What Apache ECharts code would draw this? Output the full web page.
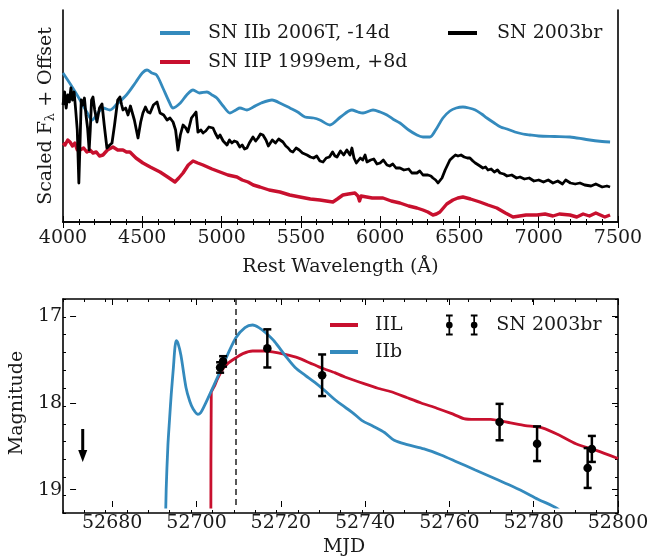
<!DOCTYPE html>
<html>
<head>
<meta charset="utf-8">
<script src="https://cdn.jsdelivr.net/npm/echarts@6/dist/echarts.min.js"></script>
<style>html,body{margin:0;padding:0;background:#fff;}#c{width:652px;height:558px;}</style>
</head>
<body>
<div id="c"></div>
<script>
// ---------- Top panel: spectra (wavelength in Å, scaled flux + offset, arbitrary units) ----------
const blueWave = [4000,4050,4100,4150,4183,4220,4252,4296,4340,4400,4460,4500,4530,4560,4590,4630,4670,4694,4740,4780,4820,4860,4908,4940,4970,5010,5053,5090,5116,5160,5200,5250,5318,5380,5431,5480,5526,5580,5620,5683,5750,5822,5860,5892,5955,6000,6043,6080,6125,6180,6232,6270,6314,6350,6396,6440,6480,6522,6560,6600,6640,6673,6720,6760,6800,6850,6900,6945,7000,7100,7197,7300,7400,7450];
const blueFlux = [149,137,124,110,102,109,114,112,118,127,140,149,152,149,147,134,120,114,119,127,132,129,130,127,124,116,109,112,114,112,115,119,122,118,114,110,105,104,102,97,105,112,110,109,112,110,107,103,99,92,87,85,85,92,104,111,114,115,114,112,108,104,99,95,93,90,88,87,86,85.5,85,82.5,80.5,80];

const blackWave = [4000,4010,4020,4030,4040,4050,4060,4070,4080,4090,4100,4108,4115,4125,4135,4145,4155,4165,4172,4180,4189,4200,4214,4230,4246,4260,4277,4295,4309,4325,4345,4359,4370,4378,4395,4410,4425,4435,4450,4473,4490,4504,4520,4535,4549,4570,4593,4612,4635,4656,4675,4694,4710,4725,4740,4757,4775,4788,4810,4839,4851,4870,4883,4900,4920,4946,4960,4977,4990,5010,5034,5050,5065,5080,5097,5115,5130,5145,5160,5175,5198,5215,5230,5245,5261,5280,5295,5305,5320,5340,5360,5387,5405,5420,5435,5450,5470,5490,5510,5539,5560,5580,5600,5620,5640,5660,5680,5700,5715,5728,5750,5770,5790,5810,5822,5835,5850,5860,5875,5890,5905,5917,5940,5960,5980,6000,6020,6043,6060,6080,6100,6125,6150,6180,6200,6232,6250,6270,6301,6320,6333,6350,6365,6377,6390,6410,6425,6440,6460,6475,6491,6510,6530,6550,6566,6585,6600,6620,6648,6665,6680,6700,6720,6740,6756,6780,6800,6830,6860,6882,6910,6940,6970,7000,7030,7060,7090,7120,7150,7170,7200,7230,7260,7290,7330,7360,7400,7430,7450];
const blackFlux = [117,130,114,127,120,134,122,130,112,92,39,82,122,117,124,107,94,72,92,122,125,112,100,114,118,97,74,77,79,97,122,125,117,112,114,107,116,114,102,84,100,109,115,110,109,117,120,109,107,102,104,100,92,72,87,97,94,90,104,110,90,92,89,91,95,94,89,84,87,81,77,82,79,81,80,75,77,73,74,79,85,81,84,88,87,82,76,77,82,79,83,80,76,74,71,70,74,72,69,67,65,64,66,61,60,64,65,70,66,65,71,67,72,67,74,64,59,57,64,62,67,60,62,63,58,59,62,57,56,58,54,54,52,53,49,49,51,47,47,46,44,42,39,41,44,52,57,62,65,67,66,67,65,64,64,61,59,57,54,55,52,53,50,52,49,48,46,47,44,45,43,44,41,42,40,42,39,41,38,42,39,38,39,37,36,38,35,36,35];

const redWave = [4000,4013,4030,4044,4060,4075,4090,4107,4130,4150,4170,4189,4210,4230,4252,4280,4315,4345,4378,4400,4422,4460,4504,4550,4612,4660,4706,4730,4757,4790,4820,4850,4883,4940,4990,5040,5097,5130,5167,5200,5242,5300,5368,5430,5494,5560,5620,5660,5702,5730,5765,5800,5841,5860,5870,5880,5892,5950,6018,6070,6125,6180,6232,6270,6301,6333,6355,6377,6420,6459,6490,6522,6570,6629,6680,6736,6790,6838,6880,6920,6989,7040,7090,7130,7197,7240,7280,7320,7360,7417,7450];
const redFlux = [79,77,82,80,76,79,72,72,74,70,72,69,70,66,67,72,75,72,72,70,70,64,59,55,50,45,40,44,49,57,61,59,57,53,50,47,45,42,40,37,35,32,30,27,25,23,22,21,20,23,27,28,29,26,21,26,25,24,24,21,19,16,14,12,10,7,8,10,18,22,24,25,23,20,17,14,9,5,6,7,7,8,6,8,7,5,8,6,9,5,7];

const spectrumNames = ['SN IIb 2006T, -14d', 'SN IIP 1999em, +8d', 'SN 2003br'];
const waveTicks = [4000, 7500, 500];

// ---------- Bottom panel: light curves (MJD, magnitude) ----------
const iilMjd = [52703.4,52703.5,52704.3,52705,52706.2,52707.5,52709.3,52711,52713.3,52716,52718,52721,52724.1,52727,52728.9,52730.5,52732.8,52735.2,52739.9,52743,52746.2,52750,52753.3,52757,52760.4,52763.4,52766,52769.8,52774.5,52778,52782.2,52786,52790,52795,52800];
const iilMag = [19.5,17.88,17.8,17.72,17.61,17.54,17.48,17.43,17.40,17.40,17.41,17.44,17.48,17.54,17.58,17.61,17.65,17.70,17.78,17.83,17.87,17.94,18.0,18.06,18.12,18.18,18.19,18.19,18.23,18.26,18.29,18.37,18.47,18.55,18.64];

const iibMjd = [52692.6,52692.8,52693.2,52693.6,52694.0,52694.5,52694.9,52695.2,52695.6,52696.3,52697.5,52698.4,52699.2,52700.3,52701.0,52701.8,52703.9,52706.2,52709.3,52711.5,52713.3,52714.8,52716.4,52718.5,52721,52723.4,52725.8,52728,52730.5,52732.8,52734.4,52737,52739.2,52742,52744.6,52746.9,52750,52754,52758,52761.8,52766,52769.8,52774,52777.5,52781,52784.6,52786];
const iibMag = [19.5,19.0,18.5,18.19,17.9,17.6,17.35,17.28,17.31,17.45,17.82,17.98,18.07,18.13,18.11,18.04,17.82,17.57,17.25,17.13,17.10,17.13,17.19,17.29,17.45,17.59,17.68,17.76,17.86,17.96,18.02,18.11,18.2,18.27,18.34,18.43,18.48,18.53,18.6,18.68,18.77,18.85,18.94,19.02,19.11,19.19,19.23];

const obsMjd = [52705.6,52706.3,52716.8,52729.8,52771.9,52780.8,52792.8,52793.8];
const obsMag = [17.59,17.52,17.37,17.68,18.22,18.47,18.75,18.53];
const obsErr = [0.06,0.06,0.22,0.24,0.21,0.20,0.23,0.15];

const limitMjd = [52673];
const limitMag = [18.3];
const refMjd = 52709.3;

const mjdMajor = [52680,52700,52720,52740,52760,52780,52800];
const magMajor = [17,18,19];

// ---------- styling ----------
const FONT = 'DejaVu Serif';
const TXT = '#1a1a1a';
const BLUE = '#348ABD';
const RED = '#C8102E';
const BLACK = '#000';
const LW = 1.6;

function zip(a, b) { return a.map((v, i) => [v, b[i]]); }
const plain = v => String(Math.round(v * 1000) / 1000);

const chart = echarts.init(document.getElementById('c'), null, {renderer: 'canvas'});

const G0 = {left: 63, top: 10, width: 555, height: 212};
const G1 = {left: 63, top: 299, width: 555, height: 214};

const lineAx = {show: true, lineStyle: {color: '#000', width: LW}};
const noLine = {show: false};

const option = {
  animation: false,
  backgroundColor: '#fff',
  textStyle: {fontFamily: FONT, color: TXT},
  grid: [
    Object.assign({containLabel: false}, G0),
    Object.assign({containLabel: false}, G1),
    Object.assign({containLabel: false}, G1)
  ],
  legend: [
    {data: [spectrumNames[0], spectrumNames[1]], orient: 'vertical', left: 160, top: 21, padding: 0, itemGap: 5,
     icon: 'rect', itemWidth: 30, itemHeight: 4,
     textStyle: {fontFamily: FONT, fontSize: 19, color: TXT, lineHeight: 24, padding: [0, 0, 0, 13]}},
    {data: [spectrumNames[2]], orient: 'vertical', left: 448, top: 21, padding: 0,
     icon: 'rect', itemWidth: 29, itemHeight: 4,
     textStyle: {fontFamily: FONT, fontSize: 19, color: TXT, lineHeight: 24, padding: [0, 0, 0, 15]}},
    {data: ['IIL', 'IIb'], orient: 'vertical', left: 330, top: 313, padding: 0, itemGap: 3,
     icon: 'rect', itemWidth: 28, itemHeight: 4,
     textStyle: {fontFamily: FONT, fontSize: 19, color: TXT, lineHeight: 24, padding: [0, 0, 0, 12]}},
    {data: [{name: 'SN 2003br', icon: 'path://M0,0 H7 V2 H4.4 V20 H7 V22 H0 V20 H2.6 V2 H0 Z M7,11 A3.5,3.5 0 1,1 0,11 A3.5,3.5 0 1,1 7,11 Z M26,0 H33 V2 H30.4 V20 H33 V22 H26 V20 H28.6 V2 H26 Z M33,11 A3.5,3.5 0 1,1 26,11 A3.5,3.5 0 1,1 33,11 Z'}],
     orient: 'vertical', left: 446, top: 313, padding: 0, itemWidth: 33, itemHeight: 21,
     textStyle: {fontFamily: FONT, fontSize: 19, color: TXT, lineHeight: 24, padding: [0, 0, 0, 13]}}
  ],
  xAxis: [
    {gridIndex: 0, type: 'value', position: 'bottom', min: waveTicks[0], max: waveTicks[1], interval: waveTicks[2],
     axisLine: lineAx, splitLine: {show: false},
     axisTick: {show: true, inside: true, length: 6, lineStyle: {color: '#000', width: 1}},
     minorTick: {show: true, splitNumber: 5, length: 3, lineStyle: {color: '#000', width: 1}},
     axisLabel: {fontFamily: FONT, fontSize: 19, color: TXT, margin: 7, formatter: plain},
     name: 'Rest Wavelength (Å)', nameLocation: 'middle', nameGap: 36,
     nameTextStyle: {fontFamily: FONT, fontSize: 19, color: TXT}},
    {gridIndex: 0, type: 'value', position: 'top', min: waveTicks[0], max: waveTicks[1], interval: waveTicks[2],
     axisLine: lineAx, splitLine: {show: false},
     axisTick: {show: true, inside: true, length: 6, lineStyle: {color: '#000', width: 1}},
     minorTick: {show: true, splitNumber: 5, length: 3, lineStyle: {color: '#000', width: 1}},
     axisLabel: {show: false}},
    {gridIndex: 1, type: 'value', position: 'bottom', min: 52670, max: 52800, interval: 5,
     axisLine: lineAx, splitLine: {show: false},
     axisTick: {show: true, inside: true, length: 3, lineStyle: {color: '#000', width: 1}},
     axisLabel: {show: false}},
    {gridIndex: 1, type: 'value', position: 'top', min: 52670, max: 52800, interval: 5,
     axisLine: lineAx, splitLine: {show: false},
     axisTick: {show: true, inside: true, length: 3, lineStyle: {color: '#000', width: 1}},
     axisLabel: {show: false}},
    {gridIndex: 2, type: 'value', position: 'bottom', min: 52670, max: 52800,
     axisLine: noLine, splitLine: {show: false},
     axisTick: {show: true, inside: true, length: 6, customValues: mjdMajor, lineStyle: {color: '#000', width: 1}},
     axisLabel: {fontFamily: FONT, fontSize: 19, color: TXT, margin: 7, customValues: mjdMajor, formatter: plain},
     name: 'MJD', nameLocation: 'middle', nameGap: 31,
     nameTextStyle: {fontFamily: FONT, fontSize: 19, color: TXT}},
    {gridIndex: 2, type: 'value', position: 'top', min: 52670, max: 52800,
     axisLine: noLine, splitLine: {show: false},
     axisTick: {show: true, inside: true, length: 6, customValues: mjdMajor, lineStyle: {color: '#000', width: 1}},
     axisLabel: {show: false}}
  ],
  yAxis: [
    {gridIndex: 0, type: 'value', position: 'left', min: 0, max: 212,
     axisLine: lineAx, axisTick: {show: false}, axisLabel: {show: false}, splitLine: {show: false},
     name: 'Scaled F{sub|λ} + Offset', nameLocation: 'middle', nameGap: 6,
     nameTextStyle: {fontFamily: FONT, fontSize: 19, color: TXT, rich: {sub: {fontFamily: FONT, fontSize: 13, color: TXT, verticalAlign: 'bottom', padding: [8, 0, 0, 0]}}}},
    {gridIndex: 0, type: 'value', position: 'right', min: 0, max: 212,
     axisLine: lineAx, axisTick: {show: false}, axisLabel: {show: false}, splitLine: {show: false}},
    {gridIndex: 1, type: 'value', position: 'left', inverse: true, min: 16.8, max: 19.2, interval: 0.2,
     axisLine: lineAx, splitLine: {show: false},
     axisTick: {show: true, inside: true, length: 3, lineStyle: {color: '#000', width: 1}},
     axisLabel: {show: false}},
    {gridIndex: 1, type: 'value', position: 'right', inverse: true, min: 16.8, max: 19.2, interval: 0.2,
     axisLine: lineAx, splitLine: {show: false},
     axisTick: {show: true, inside: true, length: 3, lineStyle: {color: '#000', width: 1}},
     axisLabel: {show: false}},
    {gridIndex: 2, type: 'value', position: 'left', inverse: true, min: 16.8, max: 19.2,
     axisLine: noLine, splitLine: {show: false},
     axisTick: {show: true, inside: true, length: 6, customValues: magMajor, lineStyle: {color: '#000', width: 1}},
     axisLabel: {fontFamily: FONT, fontSize: 19, color: TXT, margin: 8, customValues: magMajor},
     name: 'Magnitude', nameLocation: 'middle', nameGap: 35,
     nameTextStyle: {fontFamily: FONT, fontSize: 19, color: TXT}},
    {gridIndex: 2, type: 'value', position: 'right', inverse: true, min: 16.8, max: 19.2,
     axisLine: noLine, splitLine: {show: false},
     axisTick: {show: true, inside: true, length: 6, customValues: magMajor, lineStyle: {color: '#000', width: 1}},
     axisLabel: {show: false}}
  ],
  series: [
    {name: spectrumNames[0], type: 'line', xAxisIndex: 0, yAxisIndex: 0, data: zip(blueWave, blueFlux),
     showSymbol: false, smooth: 0.3, lineStyle: {color: BLUE, width: 2.8}, itemStyle: {color: BLUE}, z: 3},
    {name: spectrumNames[2], type: 'line', xAxisIndex: 0, yAxisIndex: 0, data: zip(blackWave, blackFlux),
     showSymbol: false, lineStyle: {color: BLACK, width: 2.8, join: 'round'}, itemStyle: {color: BLACK}, z: 4},
    {name: spectrumNames[1], type: 'line', xAxisIndex: 0, yAxisIndex: 0, data: zip(redWave, redFlux),
     showSymbol: false, lineStyle: {color: RED, width: 3.4, join: 'round'}, itemStyle: {color: RED}, z: 2},

    {name: 'IIL', type: 'line', xAxisIndex: 4, yAxisIndex: 4, data: zip(iilMjd, iilMag),
     showSymbol: false, smooth: 0.2, clip: true, lineStyle: {color: RED, width: 2.8}, itemStyle: {color: RED}, z: 3,
     markLine: {silent: true, symbol: 'none', label: {show: false},
       lineStyle: {color: '#222', width: 1.5, type: [6, 4]}, data: [{xAxis: refMjd}]}},
    {name: 'IIb', type: 'line', xAxisIndex: 4, yAxisIndex: 4, data: zip(iibMjd, iibMag),
     showSymbol: false, smooth: 0.3, clip: true, lineStyle: {color: BLUE, width: 2.8}, itemStyle: {color: BLUE}, z: 3},
    {name: 'SN 2003br', type: 'custom', xAxisIndex: 4, yAxisIndex: 4, clip: true, z: 5,
     data: obsMjd.map((m, i) => [m, obsMag[i], obsErr[i]]),
     renderItem: function (params, api) {
       const x = api.value(0), y = api.value(1), e = api.value(2);
       const t = api.coord([x, y - e]), b = api.coord([x, y + e]), c = api.coord([x, y]);
       const cap = 4, st = {stroke: '#000', lineWidth: 2.5};
       return {type: 'group', children: [
         {type: 'line', shape: {x1: t[0], y1: t[1], x2: b[0], y2: b[1]}, style: st},
         {type: 'line', shape: {x1: t[0] - cap, y1: t[1], x2: t[0] + cap, y2: t[1]}, style: st},
         {type: 'line', shape: {x1: b[0] - cap, y1: b[1], x2: b[0] + cap, y2: b[1]}, style: st},
         {type: 'circle', shape: {cx: c[0], cy: c[1], r: 4.3}, style: {fill: '#000'}}
       ]};
     },
     itemStyle: {color: '#000'}},
    {name: 'limit', type: 'custom', xAxisIndex: 4, yAxisIndex: 4, z: 5,
     data: limitMjd.map((m, i) => [m, limitMag[i]]),
     renderItem: function (params, api) {
       const p = api.coord([api.value(0), api.value(1)]);
       return {type: 'group', children: [
         {type: 'rect', shape: {x: p[0] - 1.5, y: p[1], width: 3, height: 22}, style: {fill: '#000'}},
         {type: 'polygon', shape: {points: [[p[0] - 4.5, p[1] + 21], [p[0] + 4.5, p[1] + 21], [p[0], p[1] + 33]]}, style: {fill: '#000'}}
       ]};
     }}
  ]
};
chart.setOption(option);
</script>
</body>
</html>
